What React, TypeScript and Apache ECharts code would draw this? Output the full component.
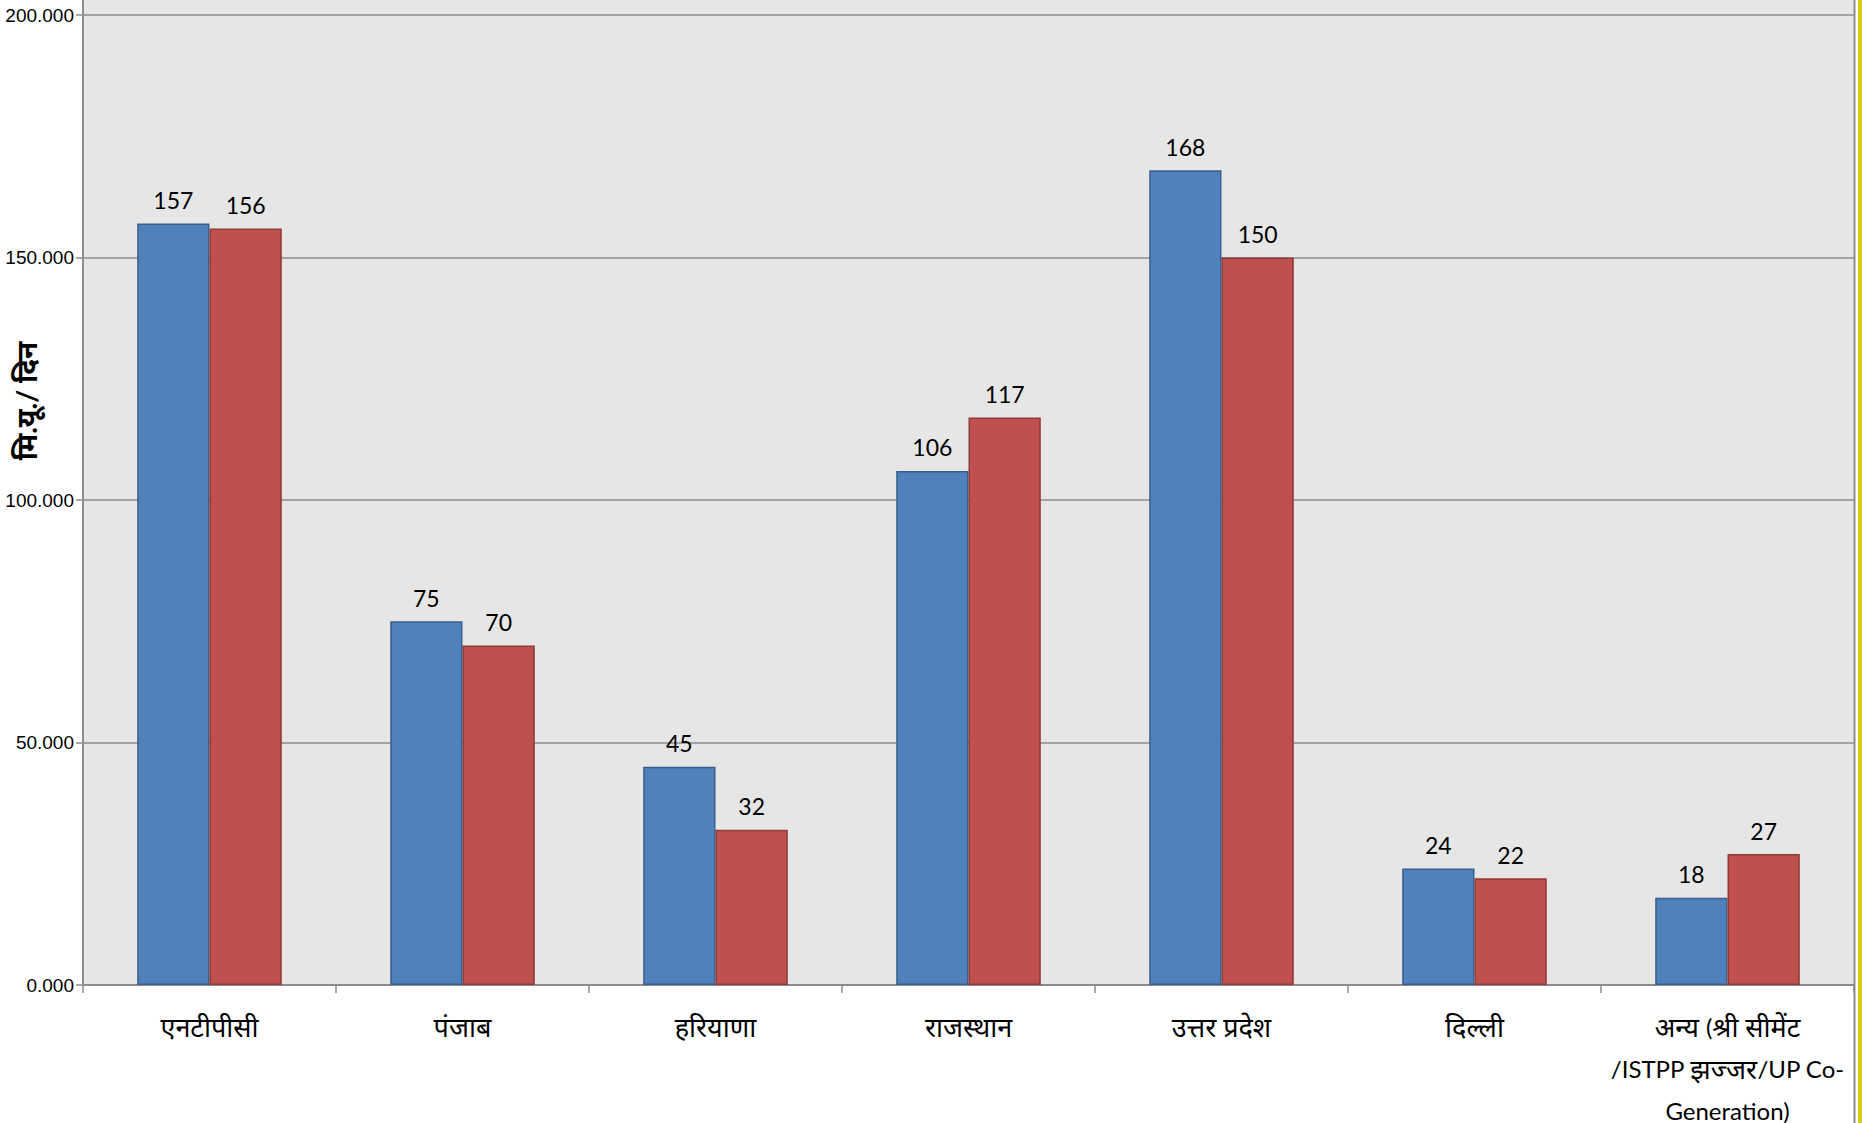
import React, { useEffect, useRef } from "react";
import * as echarts from "echarts";

const categories = [
  "एनटीपीसी",
  "पंजाब",
  "हरियाणा",
  "राजस्थान",
  "उत्तर प्रदेश",
  "दिल्ली",
  "अन्य (श्री सीमेंट\n/ISTPP झज्जर/UP Co-\nGeneration)",
];
const seriesBlue = [157, 75, 45, 106, 168, 24, 18];
const seriesRed = [156, 70, 32, 117, 150, 22, 27];
const seriesNames = ["श्रृंखला 1", "श्रृंखला 2"];
const yAxisTitle = "मि.यू./ दिन";
const yMin = 0;
const yMax = 200;
const yInterval = 50;

const FONT = 'Lato, "Noto Sans", "DejaVu Sans", sans-serif';
const NARROW = '"Liberation Sans Narrow", "Arial Narrow", sans-serif';

const isDev = (ch: string) => /[\u0900-\u097F]/.test(ch);

function toRich(label: string): string {
  return label
    .split("\n")
    .map((line) => {
      const runs: { dev: boolean; text: string }[] = [];
      for (const ch of line) {
        const d = ch === " " && runs.length ? runs[runs.length - 1].dev : isDev(ch);
        if (runs.length && runs[runs.length - 1].dev === d) runs[runs.length - 1].text += ch;
        else runs.push({ dev: d, text: ch });
      }
      return runs.map((r) => `{${r.dev ? "dv" : "lt"}|${r.text}}`).join("");
    })
    .join("\n");
}

export default function App() {
  const ref = useRef<HTMLDivElement>(null);

  useEffect(() => {
    document.body.style.margin = "0";
    if (!ref.current) return;
    const chart = echarts.init(ref.current, null, { renderer: "svg" });
    const W = 1862;
    const H = 1123;
    const left = 83;
    const right = 1854;
    const top = 15;
    const bottom = 985;
    chart.setOption({
      animation: false,
      backgroundColor: "#ffffff",
      textStyle: { fontFamily: FONT },
      grid: {
        left: left,
        right: W - right,
        top: top,
        bottom: H - bottom,
        containLabel: false,
        outerBoundsMode: "none",
        show: true,
        backgroundColor: "#e6e6e6",
        borderWidth: 0,
      },
      xAxis: {
        type: "category",
        data: categories,
        boundaryGap: true,
        axisLine: { show: true, lineStyle: { color: "#8c8c8c", width: 2 } },
        axisTick: {
          show: true,
          alignWithLabel: false,
          length: 8,
          lineStyle: { color: "#8c8c8c", width: 1.5 },
        },
        axisLabel: {
          interval: 0,
          color: "#000000",
          margin: 20,
          lineHeight: 42,
          fontFamily: FONT,
          formatter: (v: string) => toRich(v),
          rich: {
            dv: { fontSize: 27, lineHeight: 42, color: "#000000" },
            lt: { fontSize: 24, lineHeight: 42, color: "#000000", fontFamily: FONT },
          },
        },
        splitLine: { show: false },
      },
      yAxis: {
        type: "value",
        min: yMin,
        max: yMax,
        interval: yInterval,
        axisLine: { show: true, lineStyle: { color: "#8c8c8c", width: 2 } },
        axisTick: { show: true, length: 7, lineStyle: { color: "#8c8c8c", width: 1.5 } },
        axisLabel: {
          fontSize: 19,
          color: "#000000",
          margin: 9,
          fontFamily: NARROW,
          formatter: (v: number) => v.toFixed(3),
        },
        splitLine: { show: true, lineStyle: { color: "#8c8c8c", width: 1.5 } },
      },
      series: [
        {
          name: seriesNames[0],
          type: "bar",
          data: seriesBlue,
          barGap: "0%",
          barCategoryGap: "42.86%",
          itemStyle: { color: "#4f81bd", borderColor: "#3a5f8c", borderWidth: 1.5 },
          label: {
            show: true,
            position: "top",
            distance: 12,
            fontSize: 23,
            color: "#000000",
            fontFamily: FONT,
          },
        },
        {
          name: seriesNames[1],
          type: "bar",
          data: seriesRed,
          barGap: "0%",
          barCategoryGap: "42.86%",
          itemStyle: { color: "#c0504d", borderColor: "#8e3a37", borderWidth: 1.5 },
          label: {
            show: true,
            position: "top",
            distance: 12,
            fontSize: 23,
            color: "#000000",
            fontFamily: FONT,
          },
        },
      ],
      graphic: [
        {
          type: "rect",
          z: -1,
          shape: { x: left, y: 0, width: right - left, height: top },
          style: { fill: "#e6e6e6" },
          silent: true,
        },
        {
          type: "line",
          shape: { x1: left, y1: 0, x2: left, y2: top },
          style: { stroke: "#8c8c8c", lineWidth: 2 },
          silent: true,
        },
        {
          type: "line",
          shape: { x1: right + 0.5, y1: 0, x2: right + 0.5, y2: H },
          style: { stroke: "#8c8c8c", lineWidth: 2 },
          silent: true,
        },
        {
          type: "rect",
          shape: { x: 1858, y: 0, width: 4, height: H },
          style: { fill: "#d6cc14" },
          silent: true,
        },
        {
          type: "text",
          x: 26,
          y: 401,
          rotation: Math.PI / 2,
          style: {
            text: yAxisTitle,
            fontSize: 28,
            fontWeight: "bold",
            fill: "#000000",
            fontFamily: FONT,
            align: "center",
            verticalAlign: "middle",
          },
          silent: true,
        },
      ],
    });
    return () => {
      chart.dispose();
    };
  }, []);

  return <div ref={ref} style={{ width: 1862, height: 1123 }} />;
}
